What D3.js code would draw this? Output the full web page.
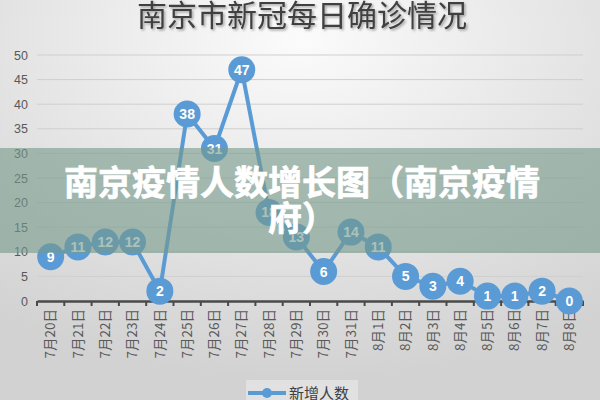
<!DOCTYPE html>
<html>
<head>
<meta charset="utf-8">
<script src="https://cdn.jsdelivr.net/npm/d3@7"></script>
<style>
  html, body { margin: 0; padding: 0; background: #e2e2e2; }
  svg { display: block; }
</style>
</head>
<body>
<svg id="chart" width="600" height="400"></svg>
<script>
var days = ["7月20日", "7月21日", "7月22日", "7月23日", "7月24日", "7月25日", "7月26日",
    "7月27日", "7月28日", "7月29日", "7月30日", "7月31日", "8月1日", "8月2日",
    "8月3日", "8月4日", "8月5日", "8月6日", "8月7日", "8月8日"];
var cases = [9, 11, 12, 12, 2, 38, 31, 47, 18, 13, 6, 14, 11, 5, 3, 4, 1, 1, 2, 0];
var yTicks = [0, 5, 10, 15, 20, 25, 30, 35, 40, 45, 50];
var title = "南京市新冠每日确诊情况";
var seriesName = "新增人数";
var bannerLines = ["南京疫情人数增长图（南京疫情", "府）"];

var svg = d3.select("#chart");
var cjk = "'Noto Sans CJK SC', 'Noto Sans', sans-serif";

// background
var defs = svg.append("defs");
var bg = defs.append("radialGradient").attr("id", "bg")
    .attr("cx", "50%").attr("cy", "10%").attr("r", "85%");
bg.append("stop").attr("offset", "0%").attr("stop-color", "#fbfbfb");
bg.append("stop").attr("offset", "100%").attr("stop-color", "#d2d2d2");
var shadow = defs.append("filter").attr("id", "shadow")
    .attr("x", "-10%").attr("y", "-30%").attr("width", "120%").attr("height", "160%");
shadow.append("feDropShadow").attr("dx", 1.5).attr("dy", 1.5)
    .attr("stdDeviation", 1).attr("flood-color", "#000").attr("flood-opacity", 0.35);

svg.append("rect").attr("width", 600).attr("height", 400).attr("fill", "url(#bg)");

// title
svg.append("text")
    .attr("x", 302).attr("y", 26)
    .attr("text-anchor", "middle")
    .attr("font-family", cjk)
    .attr("font-size", 30)
    .attr("fill", "#404040")
    .attr("filter", "url(#shadow)")
    .text(title);

var x = d3.scaleBand().domain(days).range([37, 583]);
var y = d3.scaleLinear().domain([0, 50]).range([301, 55]);

// grid
svg.append("g").selectAll("line")
    .data(yTicks.slice(1))
    .enter().append("line")
    .attr("x1", 37).attr("x2", 583)
    .attr("y1", function(d) { return y(d); })
    .attr("y2", function(d) { return y(d); })
    .attr("stroke", "#cfcfcf").attr("stroke-width", 1);

// y labels
var yAxis = svg.append("g")
    .attr("transform", "translate(37,0)")
    .call(d3.axisLeft(y).tickValues(yTicks).tickSize(0).tickPadding(9));
yAxis.select(".domain").remove();
yAxis.selectAll("text")
    .attr("font-family", "'Liberation Sans', sans-serif")
    .attr("font-size", 12.5)
    .attr("fill", "#595959");

// x axis
var xAxis = svg.append("g")
    .attr("transform", "translate(0," + y(0) + ")")
    .call(d3.axisBottom(x).tickSize(0).tickPadding(0));
xAxis.select(".domain").attr("stroke", "#4a4a4a").attr("stroke-width", 2.5);
var bounds = days.map(function(d) { return x(d); }).concat([583]);
xAxis.selectAll(".bound")
    .data(bounds)
    .enter().append("line")
    .attr("class", "bound")
    .attr("x1", function(d) { return d; })
    .attr("x2", function(d) { return d; })
    .attr("y1", 0).attr("y2", 5)
    .attr("stroke", "#4a4a4a").attr("stroke-width", 2);
xAxis.selectAll(".tick text")
    .attr("transform", "translate(0,8) rotate(-90)")
    .attr("text-anchor", "end")
    .attr("dy", "0.35em")
    .attr("x", 0).attr("y", 0)
    .attr("font-family", cjk)
    .attr("font-size", 13.5)
    .attr("fill", "#595959");

// series
var line = d3.line()
    .x(function(d, i) { return x(days[i]) + x.bandwidth() / 2; })
    .y(function(d) { return y(d); });

svg.append("path")
    .datum(cases)
    .attr("d", line)
    .attr("fill", "none")
    .attr("stroke", "#5b9bd5")
    .attr("stroke-width", 4)
    .attr("stroke-linejoin", "round");

var pt = svg.append("g").selectAll("g")
    .data(cases)
    .enter().append("g")
    .attr("transform", function(d, i) {
        return "translate(" + (x(days[i]) + x.bandwidth() / 2) + "," + y(d) + ")";
    });
pt.append("circle").attr("r", 13.5).attr("fill", "#5b9bd5");
pt.append("text")
    .attr("text-anchor", "middle")
    .attr("dy", "0.36em")
    .attr("font-family", "'Liberation Sans', sans-serif")
    .attr("font-weight", "bold")
    .attr("font-size", 14)
    .attr("fill", "#fff")
    .text(function(d) { return d; });

// legend
var lg = svg.append("g");
lg.append("rect").attr("x", 246).attr("y", 380).attr("width", 112).attr("height", 24)
    .attr("fill", "#fff").attr("opacity", 0.35);
lg.append("line").attr("x1", 248).attr("x2", 286).attr("y1", 393).attr("y2", 393)
    .attr("stroke", "#5b9bd5").attr("stroke-width", 4);
lg.append("circle").attr("cx", 267).attr("cy", 393).attr("r", 5).attr("fill", "#5b9bd5");
lg.append("text").attr("x", 289).attr("y", 399)
    .attr("font-family", cjk).attr("font-size", 15).attr("fill", "#404040")
    .text(seriesName);

// banner overlay
svg.append("rect").attr("x", 0).attr("y", 148).attr("width", 600).attr("height", 105)
    .attr("fill", "rgb(117,154,139)").attr("opacity", 0.6);
svg.append("g").selectAll("text")
    .data(bannerLines)
    .enter().append("text")
    .attr("x", 302)
    .attr("y", function(d, i) { return 195 + i * 36; })
    .attr("text-anchor", "middle")
    .attr("font-family", cjk)
    .attr("font-weight", "bold")
    .attr("font-size", 34)
    .attr("fill", "#fff")
    .attr("stroke", "#fff")
    .attr("stroke-width", 0.7)
    .text(function(d) { return d; });
</script>
</body>
</html>
